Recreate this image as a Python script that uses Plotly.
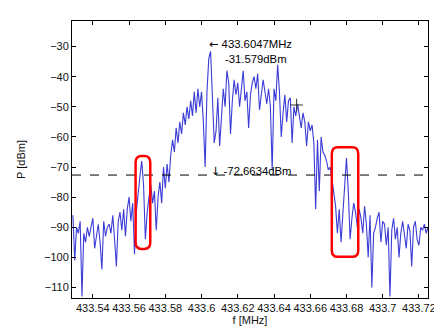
import numpy as np
import plotly.graph_objects as go

# ---- data ----
f_start = 433.529  # MHz, first sample
f_step = 0.001     # MHz, sample spacing
power_dbm = [
    -86, -101, -90, -92, -88, -113, -92, -95, -90, -93,
    -90, -87, -97, -92, -89, -95, -104, -88, -93, -90,
    -89, -92, -86, -94, -103, -88, -85, -91, -84, -93,
    -84, -80, -88, -82, -99, -85, -78, -73, -68, -76,
    -94, -85, -80, -76, -82, -78, -91, -80, -75, -82,
    -70, -77, -69, -75, -66, -61, -65, -57, -62, -55,
    -59, -52, -56, -50, -54, -48, -53, -45, -52, -44,
    -50, -45, -55, -70, -45, -34, -31.6, -45, -62, -58,
    -47, -63, -52, -44, -50, -38, -42, -59, -48, -41,
    -46, -42, -50, -44, -38, -48, -45, -57, -46, -42,
    -40, -44, -39, -51, -46, -41, -45, -49, -44, -50,
    -71, -44, -48, -36, -45, -60, -52, -46, -55, -48,
    -47, -62, -50, -53, -49, -54, -57, -52, -55, -63,
    -55, -58, -56, -62, -84, -61, -78, -60, -65, -66,
    -68, -71, -70, -74, -78, -83, -92, -84, -95, -86,
    -79, -67, -78, -94, -87, -82, -85, -90, -84, -87,
    -92, -83, -89, -100, -86, -110, -92, -90, -87, -85,
    -95, -88, -89, -96, -90, -113, -91, -87, -94, -90,
    -100, -92, -88, -93, -97, -89, -91, -103, -90, -88,
    -94, -96, -90, -91, -89, -92, -90,
]
freq_mhz = np.round(f_start + f_step * np.arange(len(power_dbm)), 4)

x_tick_vals = [433.54, 433.56, 433.58, 433.60, 433.62, 433.64, 433.66, 433.68, 433.70, 433.72]
x_tick_text = ["433.54", "433.56", "433.58", "433.6", "433.62", "433.64", "433.66", "433.68", "433.7", "433.72"]
y_tick_vals = [-30, -40, -50, -60, -70, -80, -90, -100, -110]

peak_f = 433.6047
peak_p = -31.579
threshold_p = -72.6634
cursor_f = [433.6525]
cursor_p = [-49.4]

# highlight boxes (f0, f1, p0, p1)
box_f0 = [433.5636, 433.6719]
box_f1 = [433.5717, 433.6865]
box_p0 = [-97.2, -99.8]
box_p1 = [-66.3, -63.4]

FONT = "Liberation Sans, Arial, sans-serif"
ARROW = "<span style='font-family:DejaVu Sans'>{}</span>"

fig = go.Figure()
fig.add_trace(go.Scatter(
    x=freq_mhz, y=power_dbm, mode="lines",
    line=dict(color="rgb(60,60,215)", width=1.1),
    showlegend=False, hoverinfo="skip",
))
fig.add_trace(go.Scatter(
    x=cursor_f, y=cursor_p, mode="markers",
    marker=dict(symbol="cross-thin", size=9, line=dict(width=1, color="#333")),
    showlegend=False, hoverinfo="skip",
))

# threshold dashed line
fig.add_shape(type="line", xref="paper", x0=0, x1=1, yref="y",
              y0=threshold_p, y1=threshold_p,
              line=dict(color="black", width=1, dash="dash"))

# rounded red boxes
rx, ry = 0.0033, 2.2
for x0, x1, y0, y1 in zip(box_f0, box_f1, box_p0, box_p1):
    path = (f"M {x0+rx},{y0} L {x1-rx},{y0} Q {x1},{y0} {x1},{y0+ry} "
            f"L {x1},{y1-ry} Q {x1},{y1} {x1-rx},{y1} L {x0+rx},{y1} "
            f"Q {x0},{y1} {x0},{y1-ry} L {x0},{y0+ry} Q {x0},{y0} {x0+rx},{y0} Z")
    fig.add_shape(type="path", path=path, xref="x", yref="y",
                  line=dict(color="red", width=2.5))

ann_font = dict(family=FONT, size=11.3, color="black")
fig.add_annotation(x=433.6031, y=-29.3, xref="x", yref="y", xanchor="left", yanchor="middle",
                   text=ARROW.format("\u2190") + f" {peak_f}MHz", showarrow=False, font=ann_font)
fig.add_annotation(x=433.6121, y=-34.0, xref="x", yref="y", xanchor="left", yanchor="middle",
                   text=f"{peak_p}dBm", showarrow=False, font=ann_font)
fig.add_annotation(x=433.6040, y=-71.4, xref="x", yref="y", xanchor="left", yanchor="middle",
                   text=ARROW.format("\u2193") + f" {threshold_p}dBm", showarrow=False, font=ann_font)

axis_common = dict(
    showline=True, linecolor="black", linewidth=1, mirror="ticks",
    ticks="inside", ticklen=4, tickcolor="black", tickwidth=1,
    showgrid=False, zeroline=False,
    tickfont=dict(family=FONT, size=11, color="#111"),
    title_font=dict(family=FONT, size=11, color="#111"),
)
fig.update_xaxes(range=[433.5285, 433.725], tickvals=x_tick_vals, ticktext=x_tick_text,
                 title_text="f [MHz]", title_standoff=3, **axis_common)
fig.update_yaxes(range=[-113.5, -21.5], tickvals=y_tick_vals,
                 title_text="P [dBm]", title_standoff=16, **axis_common)

fig.update_layout(
    width=442, height=332,
    margin=dict(l=62, r=22, t=12, b=42),
    paper_bgcolor="white", plot_bgcolor="white",
    font=dict(family=FONT),
)
fig.write_html("out.html")
